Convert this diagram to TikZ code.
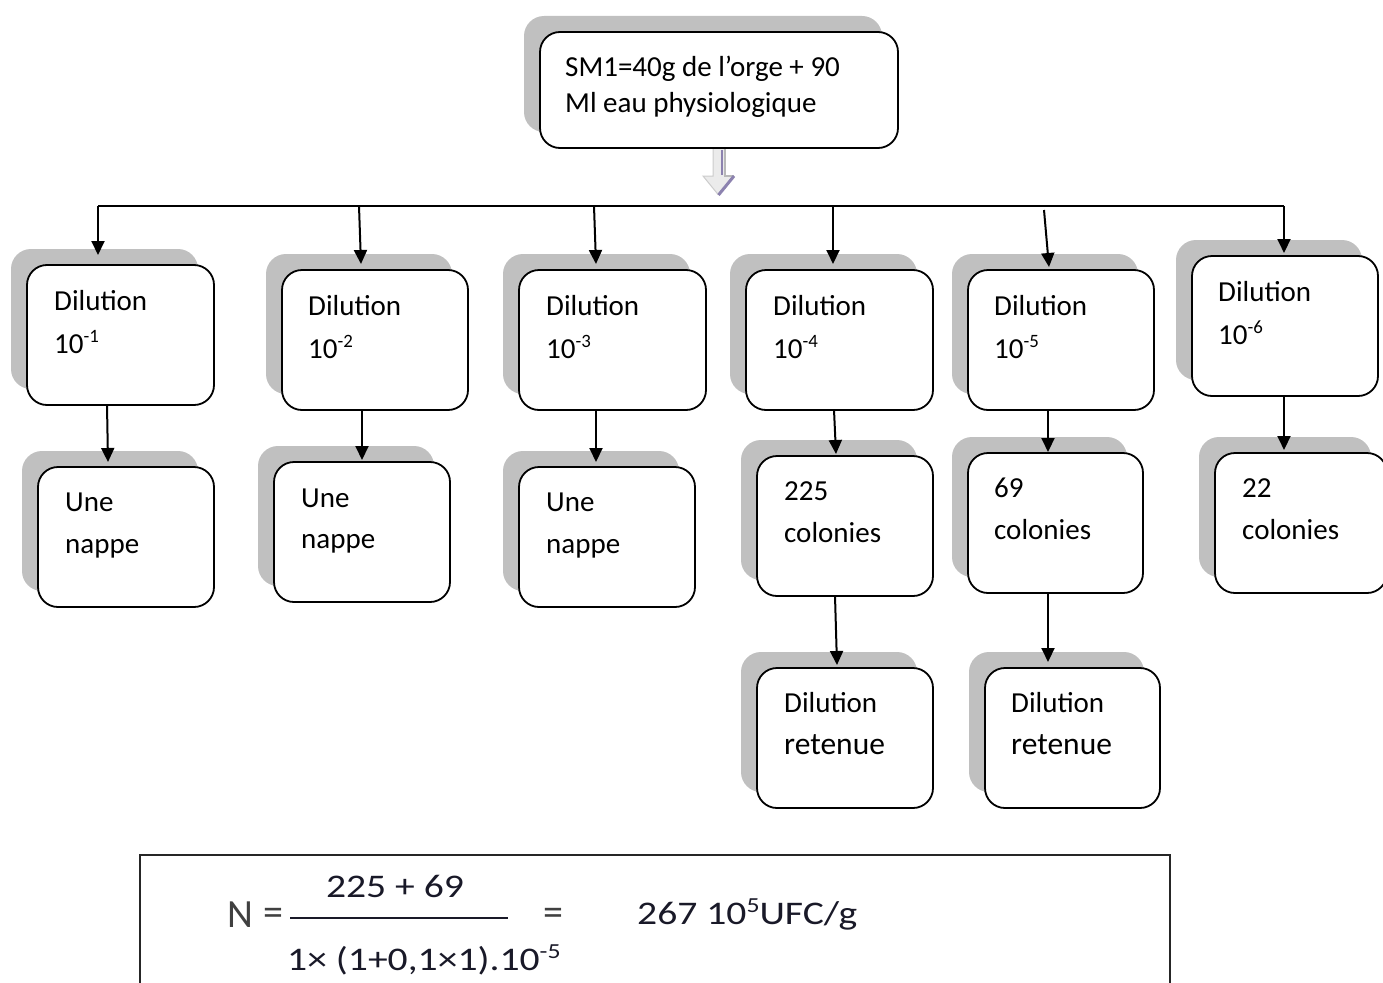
\documentclass[tikz,border=0pt]{standalone}
\usepackage{fontspec}
\setmainfont{Carlito}
\usetikzlibrary{arrows.meta,shadows,calc}
\definecolor{arrowpurple}{RGB}{140,130,175}
\definecolor{shadowgray}{RGB}{192,192,192}
\definecolor{formulacol}{RGB}{25,25,40}
\newcommand\mysup[1]{\raisebox{0.36em}{\scalebox{0.65}{#1}}}
\begin{document}
\begin{tikzpicture}[x=1pt,y=-1pt,
  box/.style={draw=black, line width=1.8pt, rounded corners=20pt, fill=white,
    anchor=north west, inner sep=0pt, outer sep=0pt,
    general shadow={fill=shadowgray, draw=none, shadow xshift=-16pt, shadow yshift=16pt}},
  txt/.style={anchor=base west, inner sep=0pt, font=\fontsize{29}{35}\selectfont},
  bigtxt/.style={anchor=base west, inner sep=0pt, font=\fontsize{31.5}{35}\selectfont},
  ftxt/.style={inner sep=0pt, text=formulacol, font=\fontsize{33}{33}\selectfont},
  arr/.style={line width=2pt, -{Triangle[length=14pt,width=13pt]}},
  wire/.style={line width=2pt}]
\fill[white] (0,0) rectangle (1383,982);
\useasboundingbox (0,0) rectangle (1383,982);

% top box
\node[box, minimum width=358pt, minimum height=116pt] (top) at (540,32) {};
\node[txt] (topa) at ([shift={(25,45)}]top.north west) {SM1=40g de l’orge + 90};
\node[txt] (topb) at ([shift={(25,80)}]top.north west) {Ml eau physiologique};

% hollow arrow
\coordinate (ha) at (top.south);
\fill[gray!16] ([shift={(-6,1)}]ha) -- ([shift={(6,1)}]ha) -- ([shift={(6,28)}]ha) -- ([shift={(15,28)}]ha)
  -- ([shift={(-0.5,47)}]ha) -- ([shift={(-16,28)}]ha) -- ([shift={(-6,28)}]ha) -- cycle;
\draw[gray!40, line width=1pt] ([shift={(-6,1)}]ha) -- ([shift={(-6,28)}]ha) -- ([shift={(-16,28)}]ha) -- ([shift={(-0.5,47)}]ha);
\draw[arrowpurple, line width=1.8pt] ([shift={(3,2)}]ha) -- ([shift={(3,27)}]ha);
\draw[gray!55, line width=1.2pt] ([shift={(6,1)}]ha) -- ([shift={(6,28)}]ha) -- ([shift={(15,28)}]ha);
\draw[arrowpurple, line width=3pt] ([shift={(15,28)}]ha) -- ([shift={(-0.5,47)}]ha);

% row 1
\node[box, minimum width=187pt, minimum height=140pt] (d1) at (27,265) {};
\node[box, minimum width=186pt, minimum height=140pt] (d2) at (282,270) {};
\node[box, minimum width=187pt, minimum height=140pt] (d3) at (519,270) {};
\node[box, minimum width=187pt, minimum height=140pt] (d4) at (746,270) {};
\node[box, minimum width=186pt, minimum height=140pt] (d5) at (968,270) {};
\node[box, minimum width=186pt, minimum height=140pt] (d6) at (1192,256) {};
% row 2
\node[box, minimum width=176pt, minimum height=140pt] (n1) at (38,467) {};
\node[box, minimum width=176pt, minimum height=140pt] (n2) at (274,462) {};
\node[box, minimum width=176pt, minimum height=140pt] (n3) at (519,467) {};
\node[box, minimum width=176pt, minimum height=140pt] (c4) at (757,456) {};
\node[box, minimum width=175pt, minimum height=140pt] (c5) at (968,453) {};
\node[box, minimum width=172pt, minimum height=140pt] (c6) at (1215,453) {};
% row 3
\node[box, minimum width=176pt, minimum height=140pt] (r4) at (757,668) {};
\node[box, minimum width=175pt, minimum height=140pt] (r5) at (985,668) {};

% texts
\node[txt] (d1a) at ([shift={(27,45)}]d1.north west) {Dilution};
\node[txt] (d1b) at ([shift={(27,88)}]d1.north west) {10\mysup{-1}};
\node[txt] (d2a) at ([shift={(26,45)}]d2.north west) {Dilution};
\node[txt] (d2b) at ([shift={(26,88)}]d2.north west) {10\mysup{-2}};
\node[txt] (d3a) at ([shift={(27,45)}]d3.north west) {Dilution};
\node[txt] (d3b) at ([shift={(27,88)}]d3.north west) {10\mysup{-3}};
\node[txt] (d4a) at ([shift={(27,45)}]d4.north west) {Dilution};
\node[txt] (d4b) at ([shift={(27,88)}]d4.north west) {10\mysup{-4}};
\node[txt] (d5a) at ([shift={(26,45)}]d5.north west) {Dilution};
\node[txt] (d5b) at ([shift={(26,88)}]d5.north west) {10\mysup{-5}};
\node[txt] (d6a) at ([shift={(26,45)}]d6.north west) {Dilution};
\node[txt] (d6b) at ([shift={(26,88)}]d6.north west) {10\mysup{-6}};

\node[txt] (n1a) at ([shift={(27,44)}]n1.north west) {Une};
\node[txt] (n1b) at ([shift={(27,86)}]n1.north west) {nappe};
\node[txt] (n2a) at ([shift={(27,45)}]n2.north west) {Une};
\node[txt] (n2b) at ([shift={(27,86)}]n2.north west) {nappe};
\node[txt] (n3a) at ([shift={(27,44)}]n3.north west) {Une};
\node[txt] (n3b) at ([shift={(27,86)}]n3.north west) {nappe};
\node[txt] (c4a) at ([shift={(27,44)}]c4.north west) {225};
\node[txt] (c4b) at ([shift={(27,86)}]c4.north west) {colonies};
\node[txt] (c5a) at ([shift={(26,44)}]c5.north west) {69};
\node[txt] (c5b) at ([shift={(26,86)}]c5.north west) {colonies};
\node[txt] (c6a) at ([shift={(27,44)}]c6.north west) {22};
\node[txt] (c6b) at ([shift={(27,86)}]c6.north west) {colonies};

\node[txt] (r4a) at ([shift={(27,44)}]r4.north west) {Dilution};
\node[bigtxt] (r4b) at ([shift={(27,86)}]r4.north west) {retenue};
\node[txt] (r5a) at ([shift={(26,44)}]r5.north west) {Dilution};
\node[bigtxt] (r5b) at ([shift={(26,86)}]r5.north west) {retenue};

% bus
\coordinate (b1) at (98,206);
\coordinate (b2) at (359,206);
\coordinate (b3) at (594,206);
\coordinate (b4) at (833,206);
\coordinate (b5) at (1044,210);
\coordinate (b6) at (1284,206);
\draw[wire] (b1) -- (b6);
\draw[arr] (b1) -- ([shift={(71,-10)}]d1.north west);
\draw[arr] (b2) -- ([shift={(79,-6)}]d2.north west);
\draw[arr] (b3) -- ([shift={(77,-6)}]d3.north west);
\draw[arr] (b4) -- ([shift={(87,-6)}]d4.north west);
\draw[arr] (b5) -- ([shift={(81,-3)}]d5.north west);
\draw[arr] (b6) -- ([shift={(92,-3)}]d6.north west);

% row1 -> row2
\draw[arr] ([xshift=80pt]d1.south west) -- ([shift={(70,-5)}]n1.north west);
\draw[arr] ([xshift=80pt]d2.south west) -- ([shift={(88,-2)}]n2.north west);
\draw[arr] ([xshift=77pt]d3.south west) -- ([shift={(77,-5)}]n3.north west);
\draw[arr] ([xshift=88pt]d4.south west) -- ([shift={(79,-2)}]c4.north west);
\draw[arr] ([xshift=80pt]d5.south west) -- ([shift={(80,-1)}]c5.north west);
\draw[arr] ([xshift=92pt]d6.south west) -- ([shift={(69,-3)}]c6.north west);
% row2 -> row3
\draw[arr] ([xshift=78pt]c4.south west) -- ([shift={(80,-3)}]r4.north west);
\draw[arr] ([xshift=80pt]c5.south west) -- ([shift={(63,-6)}]r5.north west);

% formula box
\node[draw=black!85, line width=1.8pt, anchor=north west, inner sep=0pt, outer sep=0pt,
  minimum width=1030pt, minimum height=160pt] (fbox) at (140,855) {};
\node[ftxt, anchor=base west, text=black!75] (fN) at (227,927) {\fontsize{40}{40}\selectfont N};
\node[ftxt, anchor=center, text=black!75] (feq1) at (273,917) {\fontsize{40}{40}\selectfont =};
\draw[line width=1.5pt, formulacol] (290,918) -- (508,918);
\node[ftxt, anchor=base] (fnum) at (395,897) {\scalebox{1.2}[1]{225 + 69}};
\node[ftxt, anchor=base west] (fden) at (287,970) {\scalebox{1.2}[1]{1× (1+0,1×1).10\mysup{-5}}};
\node[ftxt, anchor=center, text=black!75] (feq2) at (553,917) {\fontsize{40}{40}\selectfont =};
\node[ftxt, anchor=base west] (fres) at (637,924) {\scalebox{1.2}[1]{267 10\mysup{5}UFC/g}};
\end{tikzpicture}
\end{document}
